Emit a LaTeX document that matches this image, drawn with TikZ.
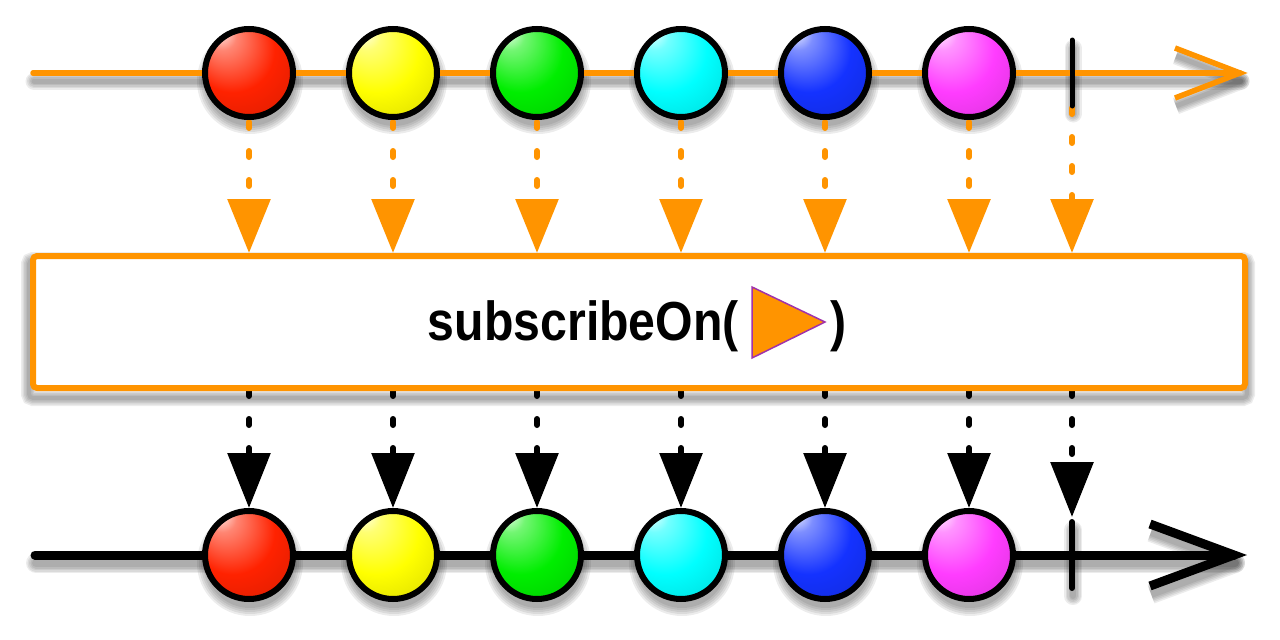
\documentclass[tikz,border=0pt]{standalone}
\usepackage{fontspec}
\newfontfamily\hfont{Liberation Sans}
\usetikzlibrary{arrows.meta}
\pgfdeclarelayer{shadow}
\pgfdeclarelayer{conn}
\pgfsetlayers{shadow,conn,main}
\definecolor{rxorange}{RGB}{255,148,0}
\definecolor{rxpurple}{RGB}{160,50,170}
\definecolor{cred}{RGB}{255,34,0}
\definecolor{cyellow}{RGB}{255,255,0}
\definecolor{cgreen}{RGB}{0,238,0}
\definecolor{ccyan}{RGB}{0,255,255}
\definecolor{cblue}{RGB}{20,50,255}
\definecolor{cmagenta}{RGB}{255,60,255}
\newcommand\defball[2]{\pgfdeclareradialshading{#1}{\pgfpoint{-18bp}{25bp}}{color(0bp)=(white); color(8bp)=(#2!55!white); color(24bp)=(#2); color(38bp)=(#2!88!black); color(50bp)=(#2!50!black)}}
\defball{shred}{cred}
\defball{shyellow}{cyellow}
\defball{shgreen}{cgreen}
\defball{shcyan}{ccyan}
\defball{shblue}{cblue}
\defball{shmagenta}{cmagenta}
\tikzset{
  ball/.style={circle, draw=black, line width=6pt, minimum size=88pt, inner sep=0pt, shade, shading=#1},
  tline/.style={draw=rxorange, line width=5.5pt, line cap=round},
  bline/.style={draw=black, line width=9pt, line cap=round},
  tchev/.style={draw=rxorange, line width=5.5pt, line cap=butt, line join=miter},
  bchev/.style={draw=black, line width=9pt, line cap=butt, line join=miter},
  tcomp/.style={draw=black, line width=5pt, line cap=round},
  bcomp/.style={draw=black, line width=6pt, line cap=round},
  odots/.style={draw=rxorange, line width=6pt, line cap=round, dash pattern=on 6pt off 23pt, -{Triangle[width=42pt,length=54pt]}},
  bdots/.style={draw=black, line width=6pt, line cap=round, dash pattern=on 6pt off 23pt, -{Triangle[width=42pt,length=55pt]}},
  opbox/.style={draw=rxorange, line width=6pt, rounded corners=4pt, fill=white, minimum width=1212pt, minimum height=132pt, inner sep=0pt},
  lbl/.style={inner sep=0pt, font=\hfont\bfseries\fontsize{55}{60}\selectfont},
  shd/.style={black, opacity=0.075},
}
\begin{document}
\begin{tikzpicture}[x=1pt,y=-1pt]
\useasboundingbox (0,0) rectangle (1280,640);
% coordinates
\coordinate (t0) at (33,73);
\coordinate (tTip) at (1240,73);
\coordinate (tArmA) at (1175,48);
\coordinate (tArmB) at (1175,98);
\coordinate (b0) at (35,555);
\coordinate (bTip) at (1234,555);
\coordinate (bArmA) at (1150,524);
\coordinate (bArmB) at (1150,586);
\coordinate (tcA) at (1072,40);
\coordinate (tcB) at (1072,106);
\coordinate (bcA) at (1072,522);
\coordinate (bcB) at (1072,588);
\foreach \i/\x in {1/249,2/393,3/537,4/681,5/825,6/969}{
  \coordinate (p\i) at (\x,73);
  \coordinate (q\i) at (\x,555);
}
% operator box
\node[opbox] (op) at (639,322) {};
\node[lbl, anchor=base east] (name) at (739,340) {\scalebox{0.877}[1]{subscribeOn(}};
\node[lbl, anchor=base west] (rpar) at (830,340) {\scalebox{0.877}[1]{)}};
\draw[fill=rxorange, draw=rxpurple, line width=1.5pt, line join=miter] (752,287) -- (825,322) -- (752,358) -- cycle;
% balls
\foreach \i/\c in {1/shred,2/shyellow,3/shgreen,4/shcyan,5/shblue,6/shmagenta}{
  \node[ball=\c] (t\i) at (p\i) {};
  \node[ball=\c] (b\i) at (q\i) {};
}
% completion marks
\draw[tcomp] (tcA) -- (tcB);
\draw[bcomp] (bcA) -- (bcB);
% shadows
\begin{pgfonlayer}{shadow}
\begin{scope}[transform canvas={shift={(1pt,-8pt)}}]
\foreach \e in {0,3,6,9,12}{
  \draw[shd, line width=5pt+\e pt, line cap=round] (t0) -- (tTip);
  \draw[shd, line width=5pt+\e pt, line join=round] (tArmA) -- (tTip) -- (tArmB);
  \draw[shd, line width=8pt+\e pt, line cap=round] (b0) -- (bTip);
  \draw[shd, line width=8pt+\e pt, line join=round] (bArmA) -- (bTip) -- (bArmB);
  \draw[shd, line width=5pt+\e pt, line cap=round] (tcA) -- (tcB);
  \draw[shd, line width=6pt+\e pt, line cap=round] (bcA) -- (bcB);
}
\foreach \e in {0,2,4,6,8}{
  \foreach \i in {1,...,6}{
    \fill[shd] (p\i) circle [radius=45pt+\e pt];
    \fill[shd] (q\i) circle [radius=45pt+\e pt];
  }
}
\end{scope}
\begin{scope}[transform canvas={shift={(-1pt,-7pt)}}]
\foreach \e in {0,3,6,9,12}{
  \draw[shd, line width=4pt+\e pt, rounded corners=4pt] (op.north west) rectangle (op.south east);
}
\end{scope}
\end{pgfonlayer}
% lines and connectors
\begin{pgfonlayer}{conn}
\draw[tline] (t0) -- (tTip);
\draw[tchev] (tArmA) -- (tTip) -- (tArmB);
\draw[bline] (b0) -- (bTip);
\draw[bchev] (bArmA) -- (bTip) -- (bArmB);
\foreach \i in {1,...,6}{
  \draw[odots, dash phase=27pt] (t\i.south) -- (t\i.south |- op.north);
  \draw[bdots, dash phase=1pt] (t\i.south |- op.south) -- (b\i.north);
}
\draw[odots, dash phase=27pt] (tcB) -- (tcB |- op.north);
\draw[bdots, dash phase=1pt, shorten >=5pt] (bcA |- op.south) -- (bcA);
\end{pgfonlayer}
\end{tikzpicture}
\end{document}
